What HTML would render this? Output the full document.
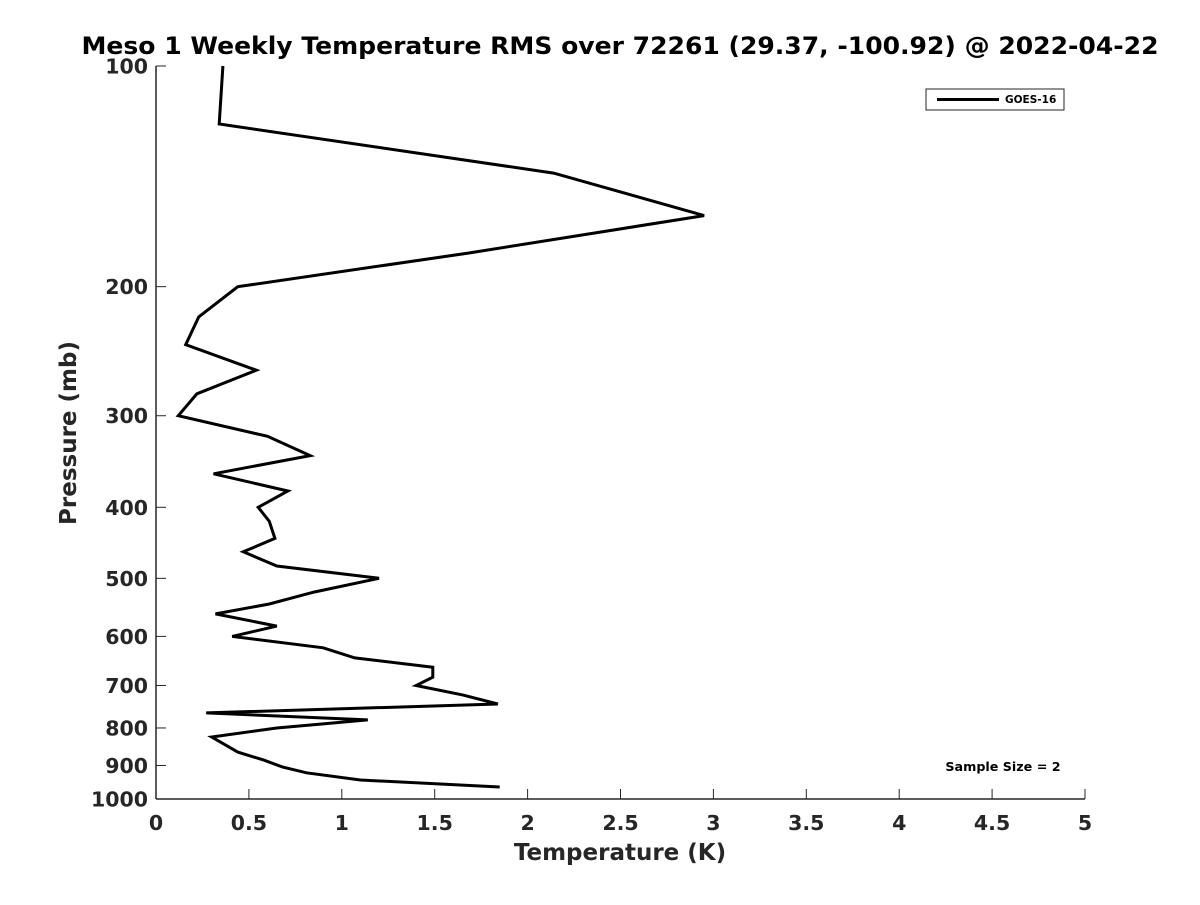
<!DOCTYPE html>
<html><head><meta charset="utf-8"><style>
html,body{margin:0;padding:0;background:#fff}
svg text{font-family:"DejaVu Sans","Liberation Sans",sans-serif;font-weight:bold}
</style></head><body>
<svg id="chart" width="1200" height="900" xmlns="http://www.w3.org/2000/svg">
<text x="620" y="54" text-anchor="middle" font-size="24" fill="#000" textLength="1077" lengthAdjust="spacingAndGlyphs">Meso 1 Weekly Temperature RMS over 72261 (29.37, -100.92) @ 2022-04-22</text>
<g id="axes"></g>
<path id="series" fill="none" stroke="#000" stroke-width="3" stroke-linejoin="miter"/>
<g>
<rect x="926" y="89" width="138" height="21" fill="#fff" stroke="#262626" stroke-width="1"/>
<line x1="937" y1="99.5" x2="999" y2="99.5" stroke="#000" stroke-width="3"/>
<text x="1005" y="103" font-size="10.5" fill="#000">GOES-16</text>
</g>
<text x="1003" y="771" text-anchor="middle" font-size="12.7" fill="#000">Sample Size = 2</text>
<text x="620" y="860" text-anchor="middle" font-size="23" fill="#262626">Temperature (K)</text>
<text transform="translate(76,433) rotate(-90)" text-anchor="middle" font-size="23" fill="#262626">Pressure (mb)</text>
</svg>
<script>
const pressures=[100,120,140,160,180,200,220,240,260,280,300,320,340,360,380,400,418,441,460,481,500,522,542,559,581,600,622,642,661,682,700,721,742,763,780,800,823,863,885,904,921,942,963];
const rmsValues=[0.36,0.34,2.14,2.95,1.68,0.44,0.23,0.16,0.54,0.22,0.12,0.60,0.83,0.31,0.71,0.55,0.61,0.64,0.47,0.65,1.20,0.85,0.61,0.32,0.65,0.41,0.90,1.07,1.49,1.49,1.40,1.65,1.84,0.27,1.14,0.65,0.30,0.44,0.58,0.68,0.81,1.10,1.85];
const xTicks=[0,0.5,1,1.5,2,2.5,3,3.5,4,4.5,5];
const yTicks=[100,200,300,400,500,600,700,800,900,1000];
const X0=156,X1=1085,Y0=66,Y1=799;
const xs=v=>X0+(X1-X0)*v/5;
const ys=p=>Y0+(Y1-Y0)*Math.log10(p/100);
const NS='http://www.w3.org/2000/svg';
const ax=document.getElementById('axes');
function mk(t,a){const e=document.createElementNS(NS,t);for(const k in a)e.setAttribute(k,a[k]);ax.appendChild(e);return e;}
let l=mk('line',{x1:X0,y1:Y1,x2:X1,y2:Y1,stroke:'#262626','stroke-width':1.5});


l=mk('line',{x1:X0,y1:Y0,x2:X0,y2:Y1,stroke:'#262626','stroke-width':1.5});


xTicks.forEach(v=>{const x=xs(v);
 const t=mk('line',{x1:x,y1:Y1,x2:x,y2:Y1-10,stroke:'#262626','stroke-width':1});
 
 
 const tx=mk('text',{x:x,y:830,'text-anchor':'middle','font-size':20.5,fill:'#262626'});
 tx.textContent=String(v);
 
 
});
yTicks.forEach(p=>{const y=ys(p);
 const t=mk('line',{x1:X0,y1:y,x2:X0+10,y2:y,stroke:'#262626','stroke-width':1});
 
 
 const tx=mk('text',{x:148,y:y+7.5,'text-anchor':'end','font-size':20.5,fill:'#262626'});
 tx.textContent=String(p);
 
 
});
document.getElementById('series').setAttribute('d',pressures.map((p,i)=>(i?'L':'M')+xs(rmsValues[i]).toFixed(1)+','+ys(p).toFixed(1)).join(''));
</script>
</body></html>
